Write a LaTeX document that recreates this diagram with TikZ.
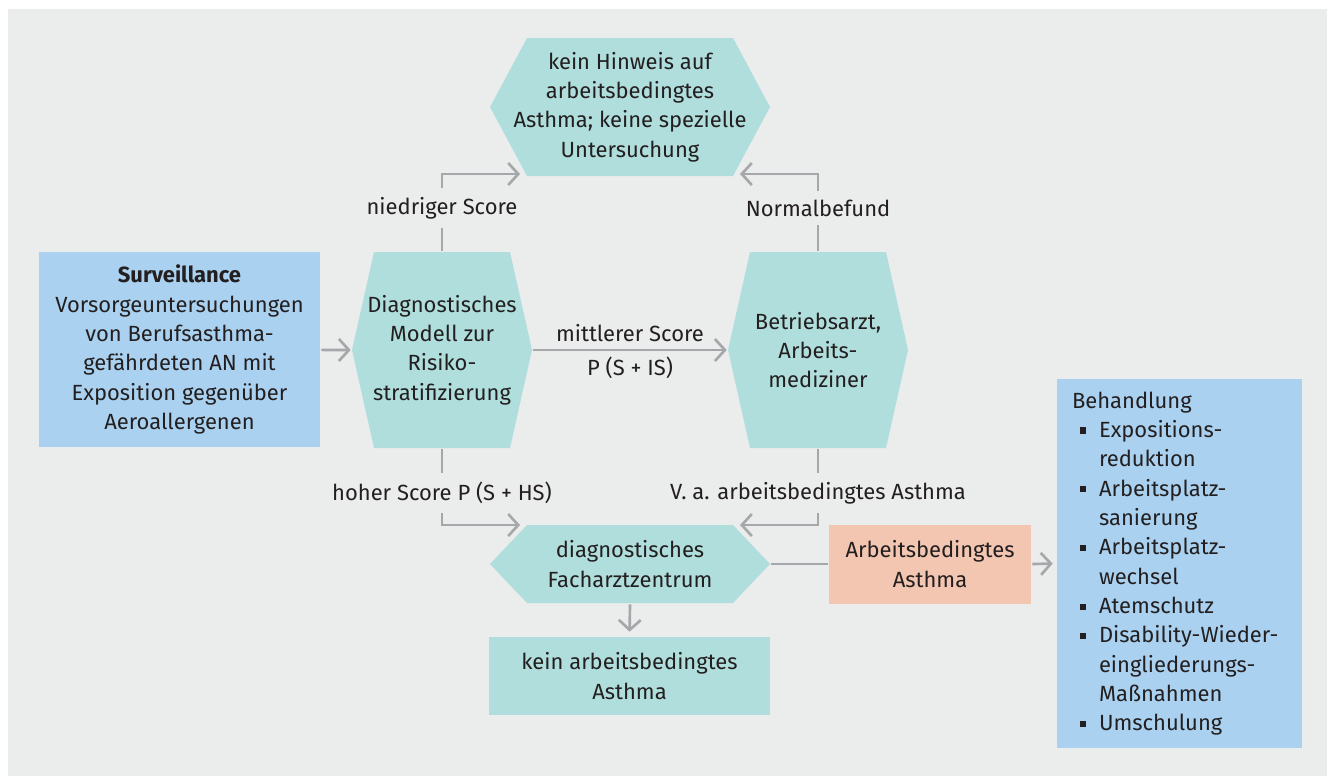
\documentclass[tikz,border=0pt]{standalone}
\usepackage{fontspec}
\setmainfont{Fira Sans}
\usepackage{tikz}
\usetikzlibrary{shapes,arrows.meta}

\definecolor{bgray}{RGB}{235,236,236}
\definecolor{teal}{RGB}{176,222,220}
\definecolor{lblue}{RGB}{170,210,240}
\definecolor{salmon}{RGB}{242,198,176}
\definecolor{lgray}{RGB}{166,167,170}
\definecolor{txt}{RGB}{35,31,32}

\newcommand{\itm}{\hspace*{0.16cm}\makebox[0.38cm][l]{\raisebox{.32ex}{\rule{.28em}{.28em}}}}
\newcommand{\itmx}{\hspace*{0.54cm}}

\tikzset{hexnode/.style={shape=rectangle,draw=none,
    path picture={\fill[teal] (path picture bounding box.west)
      -- ([xshift=#1]path picture bounding box.north west)
      -- ([xshift=-#1]path picture bounding box.north east)
      -- (path picture bounding box.east)
      -- ([xshift=-#1]path picture bounding box.south east)
      -- ([xshift=#1]path picture bounding box.south west) -- cycle;}}}

\begin{document}
\begin{tikzpicture}[->,>={Straight Barb[length=2mm,width=4.4mm]},line width=1.5pt,draw=lgray]
    \tikzstyle{every node}=[font=\fontsize{12.5}{16.7}\selectfont,text=txt,align=center,inner sep=0pt];
    \tikzstyle{boxnode}=[shape=rectangle,draw=none];
    \tikzstyle{lab}=[draw=none,fill=none];

    \useasboundingbox (0,0) rectangle (26.54,-15.52);
    \fill[bgray] (0.16,-0.18) rectangle (26.54,-15.52);

    \node[boxnode,fill=lblue,minimum width=5.62cm,minimum height=3.9cm] at (3.59,-6.99) (surv)
        {\textbf{Surveillance}\\Vorsorgeuntersuchungen\\von Berufsasthma-\\gefährdeten AN mit\\Exposition gegenüber\\Aeroallergenen};
    \node[hexnode=0.44cm,minimum width=3.6cm,minimum height=3.92cm] at (8.84,-7.0) (diag)
        {Diagnostisches\\Modell zur\\Risiko-\\stratifizierung};
    \node[hexnode=0.44cm,minimum width=3.6cm,minimum height=3.92cm] at (16.36,-7.0) (arzt)
        {Betriebsarzt,\\Arbeits-\\mediziner};
    \node[hexnode=0.74cm,minimum width=5.6cm,minimum height=2.76cm] at (12.6,-2.14) (top)
        {kein Hinweis auf\\arbeitsbedingtes\\Asthma; keine spezielle\\Untersuchung};
    \node[hexnode=0.74cm,minimum width=5.6cm,minimum height=1.56cm] at (12.6,-11.28) (fach)
        {diagnostisches\\Facharztzentrum};
    \node[boxnode,fill=teal,minimum width=5.62cm,minimum height=1.56cm] at (12.59,-13.52) (kein)
        {kein arbeitsbedingtes\\Asthma};
    \node[boxnode,fill=salmon,minimum width=4.04cm,minimum height=1.58cm] at (18.6,-11.28) (arb)
        {Arbeitsbedingtes\\Asthma};
    \node[boxnode,fill=lblue,minimum width=4.9cm,minimum height=7.38cm,text width=4.3cm,align=left] at (23.59,-11.27) (beh)
        {Behandlung\\
         \itm Expositions-\\\itmx reduktion\\
         \itm Arbeitsplatz-\\\itmx sanierung\\
         \itm Arbeitsplatz-\\\itmx wechsel\\
         \itm Atemschutz\\
         \itm Disability-Wieder-\\\itmx eingliederungs-\\\itmx Maßnahmen\\
         \itm Umschulung};

\node[lab] at (8.84,-4.16) (lo) {niedriger Score};
\node[lab] at (16.36,-4.16) (nb) {Normalbefund};
\node[lab] at (12.6,-6.66) (mi) {mittlerer Score};
\node[lab] at (12.6,-7.36) (mip) {P (S + IS)};
\node[lab] at (8.84,-9.86) (hi) {hoher Score P (S + HS)};
\node[lab] at (16.36,-9.86) (va) {V. a. arbeitsbedingtes Asthma};

\coordinate (t1) at (10.4,-3.48);
\coordinate (t2) at (14.8,-3.48);
\coordinate (t3) at (10.4,-10.5);
\coordinate (t4) at (14.8,-10.5);

    \draw (surv) to (diag.west);
    \draw (diag.east) to (arzt.west);
    \draw[-] (diag.north) to ([yshift=-1.5mm]lo.south);
    \draw ([yshift=1.5mm]lo.north) |- (t1);
    \draw[-] (arzt.north) to ([yshift=-1.5mm]nb.south);
    \draw ([yshift=1.5mm]nb.north) |- (t2);
    \draw[-] (diag.south) to ([yshift=1.5mm]hi.north);
    \draw ([yshift=-1.5mm]hi.south) |- (t3);
    \draw[-] (arzt.south) to ([yshift=1.5mm]va.north);
    \draw ([yshift=-1.5mm]va.south) |- (t4);
    \draw[-] (fach.east) to (arb.west);
    \draw[shorten >=0.6mm] (arb.east) to (beh.west);
    \draw[shorten >=0.8mm] (fach.south) to (kein.north);
\end{tikzpicture}
\end{document}
